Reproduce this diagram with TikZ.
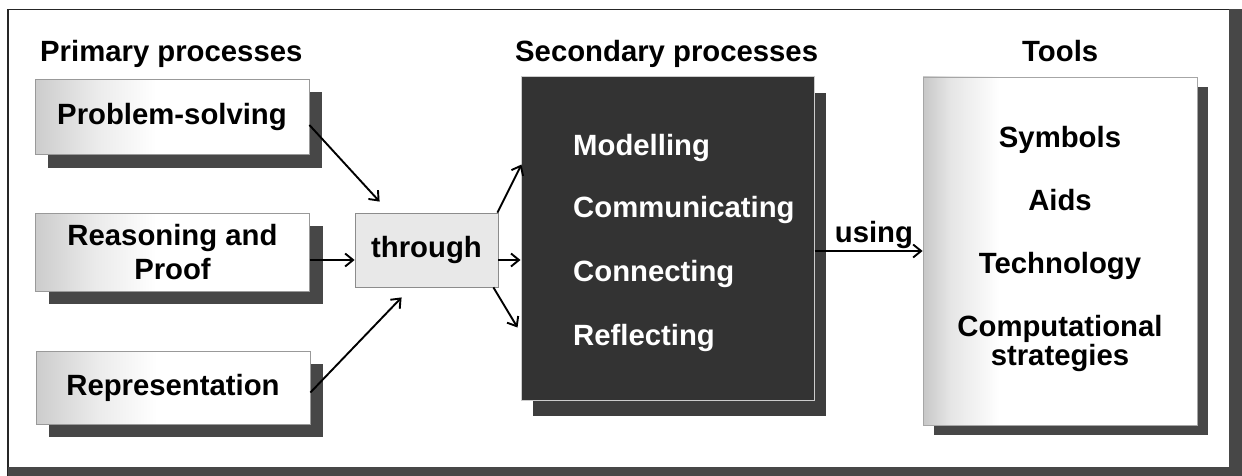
\documentclass[tikz,border=0pt]{standalone}
\usepackage{fontspec}
\setmainfont{Liberation Sans}
\usetikzlibrary{arrows.meta,shadows}
\pgfdeclarehorizontalshading{fadeA}{100bp}{color(0bp)=(black!20); color(25bp)=(black!20); color(36bp)=(black!8); color(47bp)=(white); color(100bp)=(white)}
\pgfdeclarehorizontalshading{fadeB}{100bp}{color(0bp)=(black!22); color(25bp)=(black!22); color(30bp)=(black!10); color(39bp)=(white); color(100bp)=(white)}
\begin{document}
\begin{tikzpicture}[x=1pt,y=-1pt,
  lab/.style={font=\bfseries\fontsize{29.3}{34}\selectfont, inner sep=0pt},
  pbox/.style={lab, draw=black!40, line width=0.8pt, shading=fadeA,
    minimum width=274pt, minimum height=75pt, align=center,
    drop shadow={shadow xshift=13pt, shadow yshift=-13pt, fill=black!72, opacity=1}},
  thbox/.style={lab, draw=black!45, line width=0.8pt, fill=black!9,
    minimum width=143pt, minimum height=74pt},
  sbox/.style={fill=black!80, draw=black!20, line width=1pt,
    minimum width=293pt, minimum height=323pt, inner sep=0pt,
    drop shadow={shadow xshift=12pt, shadow yshift=-16pt, fill=black!76, opacity=1}},
  tbox/.style={draw=black!35, line width=0.8pt, shading=fadeB,
    minimum width=274pt, minimum height=348pt, inner sep=0pt,
    drop shadow={shadow xshift=11pt, shadow yshift=-10pt, fill=black!72, opacity=1}},
  arr/.style={line width=1.9pt, -{Straight Barb[length=8pt,width=13pt]}}]
\useasboundingbox (0,0) rectangle (1242,476);
% outer frame
\draw[line width=1.2pt, black!85] (8,476) -- (8,9.5) -- (1229,9.5);
\fill[black!72] (1229,9) rectangle (1242,476);
\fill[black!72] (8,467) rectangle (1242,476);
% headings
\node[lab, anchor=base west] (h1) at (40,62) {Primary processes};
\node[lab, anchor=base west] (h2) at (515,62) {Secondary processes};
\node[lab, anchor=base west] (h3) at (1022,62) {Tools};
% primary boxes
\node[pbox] (ps) at (172,117) {Problem-solving};
\node[pbox, minimum height=78pt] (rp) at (172.5,252) {Reasoning and\\Proof};
\node[pbox, minimum height=73pt] (re) at (173,387.5) {Representation};
% through
\node[thbox] (th) at (426.5,250) {through};
% secondary
\node[sbox] (sec) at (667.5,238.5) {};
\node[lab, text=white, anchor=base west] (m1) at (573,155) {Modelling};
\node[lab, text=white, anchor=base west] (m2) at (573,217) {Communicating};
\node[lab, text=white, anchor=base west] (m3) at (573,281) {Connecting};
\node[lab, text=white, anchor=base west] (m4) at (573,345) {Reflecting};
% tools
\node[tbox] (tl) at (1060,251) {};
\node[lab, anchor=base] (t1) at (1060,147) {Symbols};
\node[lab, anchor=base] (t2) at (1060,210) {Aids};
\node[lab, anchor=base] (t3) at (1060,273) {Technology};
\node[lab, anchor=base] (t4) at (1060,336) {Computational};
\node[lab, anchor=base] (t5) at (1060,365) {strategies};
% arrows
\draw[arr] ([yshift=-8pt]ps.east) -- ([shift={(25pt,11pt)}]th.north west);
\coordinate (rpm) at ([yshift=-8pt]rp.east);
\draw[arr] (rpm) -- (rpm -| th.west);
\draw[arr] ([yshift=-5pt]re.east) -- ([shift={(47pt,-10pt)}]th.south west);
\draw[arr] ([xshift=-1pt]th.north east) -- ([shift={(1pt,-88pt)}]sec.north west);
\coordinate (thm) at ([yshift=-10pt]th.east);
\draw[arr] (thm) -- (thm -| sec.west);
\draw[arr] ([xshift=-5pt]th.south east) -- ([shift={(-3pt,73pt)}]sec.south west);
\coordinate (us) at (sec.east |- tl.west);
\draw[arr] (us) -- (tl.west) node[lab, pos=0.55, anchor=south, yshift=1pt] (ul) {using};
\end{tikzpicture}
\end{document}
